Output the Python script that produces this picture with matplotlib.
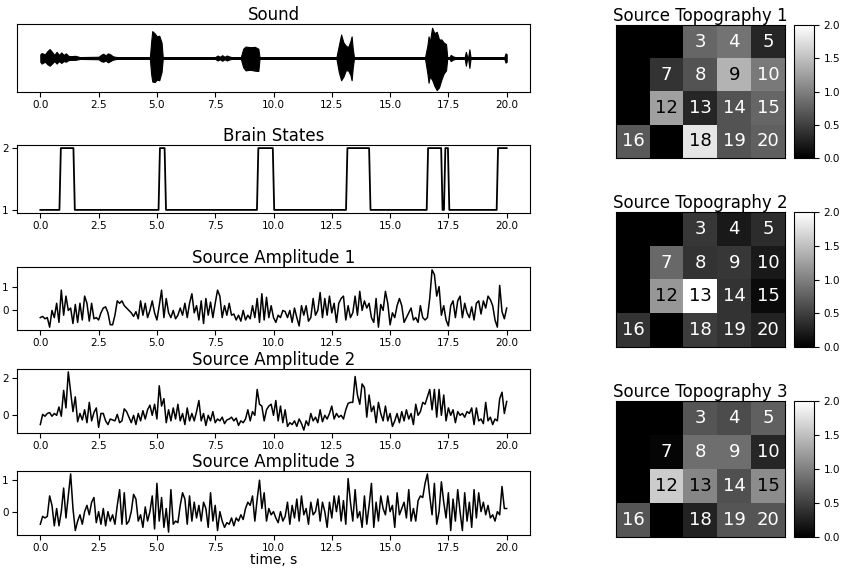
import numpy as np
import matplotlib
matplotlib.use("Agg")
import matplotlib.pyplot as plt

# ======================
# DATA
# ======================
# sound envelope: time, upper and lower edge of the waveform
sound_t = [0.0, 0.05, 0.2, 0.3, 0.4, 0.5, 0.6, 0.7, 0.8, 0.9, 1.0, 1.1, 1.2, 1.3, 1.5, 1.7,
           2.5, 2.6, 2.7, 2.8, 2.9, 3.0, 3.1, 3.2, 3.3, 4.7, 4.75, 4.8, 4.9, 5.0, 5.1, 5.2,
           5.25, 7.5, 7.6, 7.7, 7.8, 7.9, 8.0, 8.1, 8.2, 8.6, 8.7, 8.8, 9.0, 9.2, 9.35, 9.4,
           12.7, 12.8, 12.9, 13.0, 13.1, 13.2, 13.3, 13.35, 13.4, 13.45, 16.5, 16.6, 16.65,
           16.7, 16.8, 16.9, 17.0, 17.1, 17.2, 17.3, 17.4, 17.45, 17.55, 17.6, 17.7, 17.8,
           18.2, 18.25, 18.3, 18.35, 18.4, 18.45, 18.5, 19.9, 19.95, 20.0]
sound_hi = [0.12, 0.16, 0.12, 0.22, 0.29, 0.2, 0.1, 0.2, 0.1, 0.18, 0.1, 0.15, 0.07, 0.06, 0.07, 0.03,
            0.04, 0.1, 0.14, 0.08, 0.15, 0.12, 0.06, 0.04, 0.03, 0.03, 0.5, 0.87, 0.8, 0.7, 0.72, 0.5,
            0.03, 0.03, 0.08, 0.04, 0.09, 0.04, 0.08, 0.05, 0.03, 0.03, 0.3, 0.37, 0.35, 0.36, 0.3, 0.03,
            0.03, 0.4, 0.76, 0.5, 0.4, 0.35, 0.55, 0.7, 0.3, 0.03, 0.03, 0.4, 0.7, 0.5,
            0.98, 0.8, 0.85, 0.6, 0.6, 0.5, 0.45, 0.03, 0.03, 0.1, 0.05, 0.03,
            0.03, 0.2, 0.05, 0.03, 0.28, 0.03, 0.03, 0.03, 0.15, 0.12]
sound_lo = [-0.12, -0.18, -0.12, -0.2, -0.25, -0.18, -0.1, -0.18, -0.1, -0.16, -0.1, -0.12, -0.07, -0.06, -0.06, -0.03,
            -0.04, -0.1, -0.12, -0.08, -0.14, -0.1, -0.06, -0.04, -0.03, -0.03, -0.5, -0.76, -0.78, -0.7, -0.72, -0.45,
            -0.03, -0.03, -0.08, -0.04, -0.09, -0.04, -0.08, -0.05, -0.03, -0.03, -0.3, -0.4, -0.38, -0.41, -0.42, -0.03,
            -0.03, -0.45, -0.72, -0.6, -0.4, -0.4, -0.55, -0.72, -0.3, -0.03, -0.03, -0.5, -0.8, -0.6,
            -0.7, -0.9, -1.04, -0.95, -0.7, -0.5, -0.4, -0.03, -0.03, -0.1, -0.05, -0.03,
            -0.03, -0.25, -0.05, -0.03, -0.32, -0.03, -0.03, -0.03, -0.15, -0.12]

# brain state sequence
state_t = [0.0, 0.82, 0.88, 1.42, 1.48, 5.07, 5.13, 5.33, 5.39, 9.29, 9.35, 9.97, 10.03,
           13.11, 13.17, 14.1, 14.16, 16.57, 16.63, 17.19, 17.25, 17.31, 17.37, 17.48, 17.54,
           19.57, 19.63, 20.0]
state_v = [1, 1, 2, 2, 1, 1, 2, 2, 1, 1, 2, 2, 1,
           1, 2, 2, 1, 1, 2, 2, 1, 1, 2, 2, 1,
           1, 2, 2]

# source amplitudes, sampled every 0.1 s from 0 to 20 s
amp1 = [-0.3, -0.25, -0.35, -0.3, -0.7, 0.0, -0.3, 0.3, -0.5, 0.85,
        -0.2, 0.6, 0.0, 0.1, -0.55, 0.25, -0.5, 0.3, -0.4, 0.6,
        0.3, -0.45, 0.3, -0.35, -0.3, -0.4, -0.1, 0.1, 0.15, -0.1,
        -0.6, -0.6, -0.2, 0.4, 0.3, 0.4, 0.2, 0.1, 0.0, -0.1,
        -0.25, -0.05, -0.35, 0.4, -0.2, 0.3, -0.3, 0.0, 0.4, -0.1,
        -0.4, 0.2, 0.85, -0.3, 0.5, -0.1, -0.3, 0.0, -0.35, -0.2,
        0.1, -0.2, 0.3, -0.3, 0.3, 0.7, -0.1, 0.2, -0.4, 0.4,
        -0.55, 0.5, -0.2, 0.35, -0.3, 0.3, 0.85, 0.6, -0.3, 0.2,
        -0.2, 0.3, -0.2, -0.15, -0.4, -0.2, -0.45, 0.0, -0.4, -0.2,
        -0.35, 0.2, -0.3, 0.5, -0.5, 0.7, -0.4, 0.55, -0.3, 0.2,
        -0.3, -0.5, -0.2, -0.3, 0.0, -0.05, -0.3, 0.0, -0.5, 0.1,
        -0.3, -0.65, 0.2, -0.2, 0.2, -0.45, -0.3, 0.5, -0.2, 0.0,
        0.75, -0.3, 0.5, -0.2, 0.6, -0.1, 0.3, -0.5, 0.3, 0.5,
        0.6, -0.4, 0.2, -0.3, -0.1, 0.6, -0.2, 0.8, 0.0, 0.4,
        0.1, 0.3, -0.3, -0.5, 0.5, -0.7, 0.25, 0.0, 0.8, 0.3,
        -0.6, -0.1, -0.3, 0.2, 0.5, 0.2, -0.5, -0.3, -0.1, 0.1,
        -0.4, -0.3, -0.5, 0.2, -0.3, -0.4, -0.3, 0.5, 1.7, 1.5,
        0.6, 1.0, -0.2, 0.2, -0.4, -0.65, 0.2, 0.4, -0.3, 0.4,
        0.6, -0.3, 0.3, -0.1, -0.3, 0.15, -0.4, 0.3, 0.4, -0.15,
        0.4, 0.1, 0.6, 0.45, 0.2, -0.4, -0.7, 1.05, -0.05, -0.35,
        0.1]

amp2 = [-0.5, 0.05, -0.05, 0.1, 0.15, -0.05, 0.1, 0.0, 0.45, -0.05,
        1.35, 0.4, 2.35, 1.3, 0.2, 1.0, -0.35, 0.1, -0.25, 0.3,
        -0.4, 0.7, -0.3, 0.15, 0.4, -0.65, 0.1, 0.1, -0.3, -0.5,
        -0.2, -0.25, -0.3, 0.05, -0.4, -0.3, 0.35, 0.2, -0.1, -0.4,
        0.0, -0.5, 0.1, -0.3, 0.25, -0.2, 0.3, 0.55, 0.0, 0.6,
        -0.2, 1.6, 0.5, 0.9, -0.4, 0.3, -0.3, 0.4, -0.2, 0.6,
        -0.3, 0.1, -0.5, 0.4, -0.3, 0.1, -0.3, 0.2, 0.8, -0.3,
        0.1, -0.55, 0.0, -0.3, 0.2, -0.4, -0.2, -0.3, -0.1, -0.45,
        -0.25, -0.2, -0.1, -0.3, -0.15, -0.55, -0.3, -0.4, -0.2, 0.3,
        -0.3, 0.2, 0.0, 1.4, 0.6, 0.5, -0.3, 0.3, 0.5, 0.6,
        0.0, 0.8, -0.3, 0.5, -0.4, 0.3, -0.6, -0.4, -0.5, -0.3,
        -0.6, -0.2, -0.45, -0.8, -0.3, -0.55, 0.1, -0.3, -0.1, -0.4,
        0.3, -0.35, 0.0, -0.2, 0.1, 0.5, -0.2, 0.1, -0.1, 0.0,
        -0.2, 0.3, 0.65, 0.7, 0.7, 2.1, 1.1, 0.6, 1.7, 1.5,
        -0.1, 1.1, 0.2, 0.5, -0.4, 0.7, 0.1, -0.3, 0.5, -0.3,
        0.1, -0.6, -0.3, 0.1, -0.4, 0.2, -0.3, 0.3, -0.2, 0.1,
        -0.5, 0.6, 0.0, 0.2, 0.7, 0.6, 1.0, 1.4, 0.3, 1.4,
        -0.1, 1.4, 0.0, 1.1, -0.3, 0.4, 0.0, 0.3, -0.4, 0.2,
        0.0, 0.1, -0.1, 0.2, 0.1, 0.4, -0.5, 0.4, -0.3, -0.2,
        -0.45, 0.7, -0.3, -0.1, -0.5, -0.2, -0.3, 0.9, 1.25, 0.1,
        0.75]

amp3 = [-0.4, -0.15, -0.2, -0.15, 0.5, 0.2, -0.45, 0.1, -0.45, 0.0,
        0.75, -0.2, 0.5, 1.2, 0.1, -0.6, -0.3, -0.1, -0.4, 0.0,
        0.2, -0.1, 0.3, 0.45, -0.35, 0.0, -0.4, 0.1, -0.45, 0.0,
        -0.3, -0.1, -0.4, 0.2, 0.7, -0.4, 0.6, -0.4, -0.3, 0.0,
        0.55, 0.4, -0.3, -0.1, -0.5, 0.15, -0.3, 0.0, 0.5, -0.55,
        0.9, -0.3, 0.45, -0.5, 0.1, -0.65, 0.7, -0.4, -0.3, -0.35,
        0.2, 0.6, 0.4, -0.4, 0.5, -0.3, 0.3, -0.2, 0.2, -0.3,
        0.3, 0.1, -0.5, 0.6, -0.3, 0.2, -0.6, 0.0, -0.3, -0.5,
        -0.35, -0.4, -0.2, -0.45, -0.2, -0.3, -0.1, -0.25, 0.1, 0.3,
        0.2, 0.5, -0.3, 0.4, 1.0, 0.1, 0.6, -0.3, 0.1, -0.1,
        0.0, -0.2, -0.35, 0.0, -0.3, -0.15, 0.3, -0.4, 0.2, -0.2,
        0.4, -0.3, 0.5, -0.1, 0.1, -0.4, 0.3, -0.1, 0.0, 0.4,
        -0.3, 0.3, 0.0, -0.5, 0.3, -0.2, 0.5, 0.0, 0.5, -0.3,
        0.35, -0.4, 1.05, 0.3, -0.3, 0.7, -0.2, 0.0, -0.5, 0.5,
        -0.4, 0.2, 0.9, -0.5, 0.3, -0.3, 0.5, 0.1, -0.1, 0.5,
        0.0, 0.2, -0.5, 0.6, -0.1, 0.1, 0.3, -0.2, 0.7, -0.3,
        0.1, -0.3, 0.35, 0.5, 0.45, 0.9, 1.2, 0.5, -0.1, 0.9,
        -0.4, 0.0, 0.95, 0.3, -0.2, 0.6, -0.6, 0.4, -0.3, 0.7,
        0.0, -0.6, 0.6, -0.3, 0.3, -0.5, 0.7, -0.2, 0.6, 0.0,
        0.3, -0.1, 0.2, -0.2, -0.1, -0.3, 0.0, -0.1, 0.8, 0.1,
        0.1]

# source topographies on a 4 x 5 electrode grid (cells 1,2,6,11,17 are empty)
channels = [[1, 2, 3, 4, 5],
            [6, 7, 8, 9, 10],
            [11, 12, 13, 14, 15],
            [16, 17, 18, 19, 20]]
empty_channels = [1, 2, 6, 11, 17]
topo1 = [[0.0, 0.0, 0.8, 0.9, 0.3],
         [0.0, 0.4, 0.65, 1.4, 0.95],
         [0.0, 1.25, 0.3, 0.65, 0.8],
         [0.7, 0.0, 1.8, 0.65, 0.75]]
topo2 = [[0.0, 0.0, 0.43, 0.2, 0.35],
         [0.0, 0.82, 0.4, 0.43, 0.2],
         [0.0, 1.18, 2.0, 0.4, 0.08],
         [0.4, 0.0, 0.47, 0.4, 0.27]]
topo3 = [[0.0, 0.0, 0.67, 0.6, 0.75],
         [0.0, 0.04, 0.86, 0.86, 0.3],
         [0.0, 1.6, 1.05, 0.63, 1.1],
         [0.67, 0.0, 0.27, 0.67, 0.67]]

t_amp = np.arange(len(amp1)) * 0.1

# ======================
# FIGURE
# ======================
W, H = 842, 568
fig = plt.figure(figsize=(W / 100, H / 100), dpi=100)

def box(left, top, right, bottom):
    # pixel box -> figure fraction
    return [left / W, 1 - bottom / H, (right - left) / W, (bottom - top) / H]

TICK = 7.5
TITLE = 12

# sound
ax = fig.add_axes(box(17, 24, 530, 92))
ax.fill_between(sound_t, sound_lo, sound_hi, color="black", lw=0.8)
ax.set_ylim(-1.1, 1.1)
ax.set_yticks([])
ax.set_title("Sound", fontsize=TITLE, pad=3)
ax.tick_params(labelsize=TICK, pad=2.5)

# brain states
ax = fig.add_axes(box(17, 145, 530, 213))
ax.plot(state_t, state_v, color="black", lw=1.3)
ax.set_yticks([1, 2])
ax.set_title("Brain States", fontsize=TITLE, pad=3)
ax.tick_params(labelsize=TICK, pad=2.5)

# source amplitudes
amp_boxes = [(267, 330), (369, 433), (471, 535)]
amp_ticks = [[0, 1], [0, 2], [0, 1]]
for i, (amp, (top, bottom)) in enumerate(zip([amp1, amp2, amp3], amp_boxes)):
    ax = fig.add_axes(box(17, top, 530, bottom))
    ax.plot(t_amp, amp, color="black", lw=1.1)
    ax.set_yticks(amp_ticks[i])
    ax.set_title("Source Amplitude %d" % (i + 1), fontsize=TITLE, pad=3)
    ax.tick_params(labelsize=TICK, pad=2.5)
ax.set_xlabel("time, s", fontsize=10, labelpad=0)

# topographies
topo_boxes = [(25, 158), (212, 347), (401, 537)]
for i, (topo, (top, bottom)) in enumerate(zip([topo1, topo2, topo3], topo_boxes)):
    ax = fig.add_axes(box(616, top, 785, bottom))
    im = ax.imshow(topo, cmap="gray", vmin=0, vmax=2, aspect="auto")
    for r, row in enumerate(channels):
        for c, ch in enumerate(row):
            if ch in empty_channels:
                continue
            col = "black" if topo[r][c] > 1.0 else "white"
            ax.text(c, r, str(ch), ha="center", va="center", color=col, fontsize=13)
    ax.set_xticks([])
    ax.set_yticks([])
    ax.set_title("Source Topography %d" % (i + 1), fontsize=TITLE, pad=3)
    cax = fig.add_axes(box(794, top, 814, bottom))
    cb = fig.colorbar(im, cax=cax, ticks=[0.0, 0.5, 1.0, 1.5, 2.0])
    cb.ax.tick_params(labelsize=TICK)
    cb.ax.yaxis.set_major_formatter(matplotlib.ticker.FormatStrFormatter("%.1f"))

fig.savefig("out.png", dpi=100)
